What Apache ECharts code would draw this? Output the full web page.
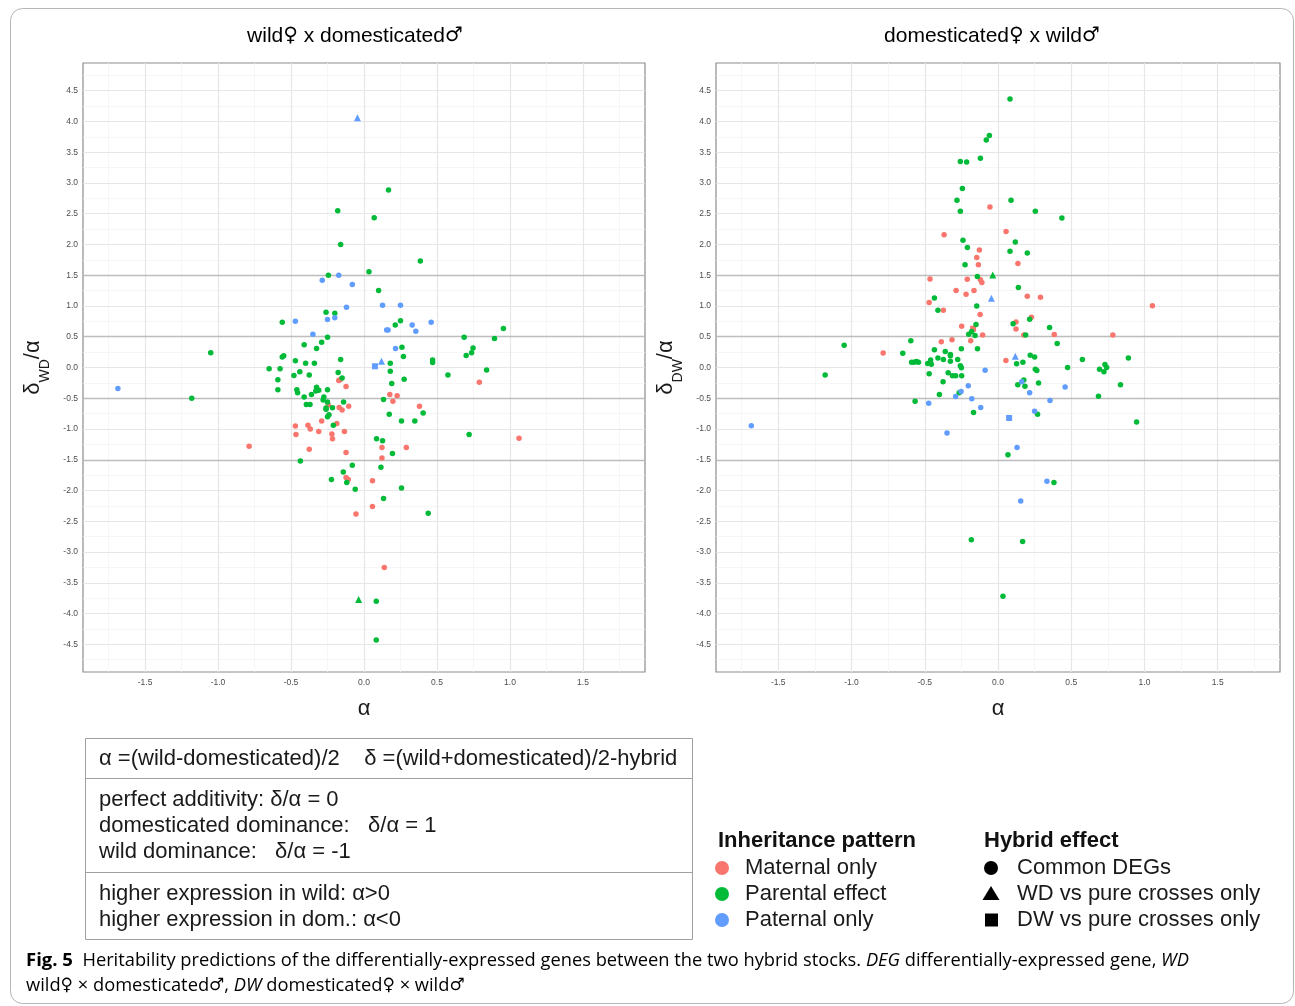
<!DOCTYPE html>
<html>
<head>
<meta charset="utf-8">
<script src="https://cdn.jsdelivr.net/npm/echarts@6/dist/echarts.min.js"></script>
<style>
html,body{margin:0;padding:0;background:#fff;}
#chart{width:1295px;height:1006px;}
</style>
</head>
<body>
<div id="chart"></div>
<script>
// ---------------- DATA ----------------
const PANEL_TITLES = ['wild\u2640 x domesticated\u2642', 'domesticated\u2640 x wild\u2642'];
const X_TICKS = [-1.5, -1.0, -0.5, 0.0, 0.5, 1.0, 1.5];
const Y_TICKS = [-4.5, -4.0, -3.5, -3.0, -2.5, -2.0, -1.5, -1.0, -0.5, 0.0, 0.5, 1.0, 1.5, 2.0, 2.5, 3.0, 3.5, 4.0, 4.5];
const X_MINOR = [-1.75, -1.25, -0.75, -0.25, 0.25, 0.75, 1.25, 1.75];
const Y_MINOR = [-4.75, -4.25, -3.75, -3.25, -2.75, -2.25, -1.75, -1.25, -0.75, -0.25, 0.25, 0.75, 1.25, 1.75, 2.25, 2.75, 3.25, 3.75, 4.25, 4.75];
const REF_LINES = [-1.5, -0.5, 0.5, 1.5];
const X_LIMITS = [-1.925, 1.925];
const Y_LIMITS = [-4.95, 4.95];
const GROUPS = ['Maternal only', 'Parental effect', 'Paternal only'];
const EFFECTS = ['Common DEGs', 'WD vs pure crosses only', 'DW vs pure crosses only'];

// wild female x domesticated male  (alpha, delta_WD/alpha)
const wdMaternal = [[-0.173,-0.21],[-0.163,-0.2],[-0.123,-0.31],[-0.245,-0.61],[-0.17,-0.65],[-0.15,-0.69],[-0.105,-0.63],[-0.29,-0.87],[-0.186,-0.91],[-0.47,-0.95],[-0.384,-0.94],[-0.368,-1.0],[-0.466,-1.09],[-0.31,-1.04],[-0.22,-1.08],[-0.216,-1.16],[-0.134,-1.04],[-0.375,-1.33],[-0.123,-1.38],[-0.787,-1.28],[0.177,-0.44],[0.227,-0.46],[0.198,-0.55],[0.38,-0.63],[0.123,-1.3],[0.29,-1.3],[0.123,-1.47],[0.79,-0.24],[1.062,-1.15],[-0.123,-1.79],[-0.108,-1.82],[0.058,-1.84],[0.058,-2.26],[-0.055,-2.38],[0.139,-3.25]];
const wdParental = [[0.1,1.25],[0.168,2.885],[-0.18,2.55],[0.07,2.435],[-0.16,2.0],[0.386,1.73],[0.034,1.556],[-0.244,1.5],[-0.26,0.9],[-0.2,0.88],[-0.56,0.735],[0.214,0.69],[0.25,0.76],[-0.25,0.49],[-0.29,0.41],[-0.41,0.37],[-0.325,0.31],[-0.56,0.17],[-0.55,0.19],[-0.47,0.11],[-0.4,0.07],[-0.34,0.07],[-0.16,0.13],[-0.65,-0.02],[-0.575,-0.02],[-0.48,-0.13],[-0.44,-0.07],[-0.375,-0.12],[-0.177,-0.08],[-0.15,-0.17],[0.26,0.33],[0.27,0.18],[0.18,0.07],[0.18,-0.06],[0.275,-0.19],[0.19,-0.26],[0.47,0.12],[0.47,0.08],[0.575,-0.12],[0.686,0.49],[0.7,0.195],[0.737,0.24],[0.747,0.315],[0.894,0.47],[0.955,0.635],[0.84,-0.04],[-1.05,0.24],[-1.18,-0.5],[-0.59,-0.2],[-0.59,-0.36],[-0.46,-0.36],[-0.455,-0.41],[-0.325,-0.32],[-0.31,-0.37],[-0.33,-0.38],[-0.36,-0.44],[-0.41,-0.48],[-0.25,-0.36],[-0.275,-0.48],[-0.28,-0.53],[-0.395,-0.6],[-0.37,-0.6],[-0.25,-0.56],[-0.26,-0.66],[-0.26,-0.68],[-0.216,-0.655],[-0.24,-0.77],[-0.25,-0.8],[-0.14,-0.56],[-0.21,-0.94],[0.134,-0.52],[0.173,-0.76],[0.257,-0.87],[0.348,-0.87],[0.405,-0.74],[0.086,-1.16],[0.127,-1.19],[0.195,-1.4],[-0.436,-1.52],[-0.08,-1.59],[0.116,-1.62],[0.72,-1.09],[-0.142,-1.7],[-0.118,-1.87],[-0.223,-1.82],[-0.06,-1.98],[0.257,-1.96],[0.134,-2.13],[0.44,-2.37],[0.084,-3.8],[0.084,-4.43]];
const wdParentalWDonly = [[-0.037,-3.77]];
const wdPaternal = [[-0.286,1.42],[-0.173,1.5],[-0.08,1.35],[-0.12,0.98],[0.127,1.01],[0.25,1.01],[-0.47,0.75],[-0.25,0.78],[-0.2,0.81],[-0.35,0.54],[0.155,0.61],[0.165,0.61],[0.33,0.69],[0.355,0.59],[0.46,0.735],[0.216,0.31],[-1.686,-0.34]];
const wdPaternalWDonly = [[-0.045,4.06],[0.12,0.1]];
const wdPaternalDWonly = [[0.075,0.02]];

// domesticated female x wild male  (alpha, delta_DW/alpha)
const dwMaternal = [[-0.055,2.61],[-0.368,2.16],[0.055,2.21],[-0.127,1.91],[-0.145,1.79],[-0.134,1.67],[0.136,1.69],[-0.464,1.44],[-0.21,1.435],[-0.12,1.425],[-0.11,1.38],[-0.286,1.25],[-0.218,1.19],[-0.164,1.25],[-0.47,1.055],[0.2,1.16],[0.29,1.14],[-0.373,0.93],[-0.122,0.86],[0.123,0.74],[0.123,0.625],[0.228,0.817],[-0.248,0.672],[-0.105,0.527],[0.384,0.535],[0.176,0.527],[-0.784,0.235],[-0.387,0.42],[-0.314,0.45],[-0.186,0.435],[0.054,0.113],[1.054,1.005],[0.784,0.527]];
const dwMaternalDWonly = [[-0.17,0.63]];
const dwParental = [[0.082,4.365],[-0.059,3.77],[-0.08,3.7],[-0.12,3.4],[-0.257,3.35],[-0.214,3.34],[-0.243,2.91],[-0.28,2.72],[0.089,2.72],[-0.257,2.54],[0.255,2.54],[0.436,2.43],[-0.239,2.07],[0.118,2.04],[-0.209,1.95],[0.082,1.89],[0.2,1.86],[-0.225,1.67],[-0.141,1.48],[0.139,1.3],[-0.434,1.13],[-0.145,1.0],[-0.41,0.93],[-0.15,0.7],[0.103,0.71],[0.216,0.785],[-0.18,0.586],[-0.2,0.54],[-0.157,0.52],[0.352,0.65],[0.189,0.527],[-0.595,0.434],[0.404,0.39],[-0.65,0.23],[-0.434,0.29],[-0.36,0.26],[-0.25,0.305],[-0.14,0.305],[-0.325,0.21],[-0.325,0.19],[-0.41,0.155],[-0.373,0.13],[-0.46,0.12],[-0.275,0.13],[-0.325,0.1],[-0.59,0.086],[-0.573,0.086],[-0.557,0.096],[-0.543,0.086],[-0.48,0.064],[-0.455,0.054],[-0.257,0.027],[-0.25,-0.005],[0.127,0.06],[0.17,0.086],[0.22,0.2],[0.25,0.17],[0.255,-0.03],[0.265,-0.05],[0.475,0.0],[0.576,0.13],[0.693,-0.027],[0.723,-0.07],[0.73,0.05],[0.742,0.0],[0.89,0.156],[0.836,-0.28],[0.946,-0.887],[0.686,-0.468],[-0.47,-0.1],[-0.34,-0.086],[-0.311,-0.134],[-0.289,-0.134],[-0.248,-0.134],[-0.375,-0.23],[-0.265,-0.41],[-0.4,-0.44],[-0.566,-0.55],[-0.167,-0.73],[0.176,-0.204],[0.135,-0.28],[0.184,-0.306],[0.277,-0.25],[0.27,-0.758],[0.068,-1.42],[0.382,-1.87],[-0.182,-2.8],[0.168,-2.83],[0.034,-3.72],[-1.05,0.36],[-1.18,-0.12]];
const dwParentalWDonly = [[-0.036,1.505]];
const dwPaternal = [[-0.088,-0.043],[-0.203,-0.296],[-0.252,-0.39],[-0.289,-0.473],[-0.179,-0.51],[-0.473,-0.58],[-0.118,-0.65],[0.162,-0.23],[0.216,-0.41],[0.458,-0.317],[0.355,-0.537],[0.25,-0.71],[-0.348,-1.064],[0.13,-1.3],[0.334,-1.85],[0.155,-2.17],[-1.684,-0.946]];
const dwPaternalWDonly = [[-0.045,1.125],[0.118,0.183]];
const dwPaternalDWonly = [[0.076,-0.82]];

const BOX_ROWS = [
  ['\u03b1 =(wild-domesticated)/2    \u03b4 =(wild+domesticated)/2-hybrid'],
  ['perfect additivity: \u03b4/\u03b1 = 0', 'domesticated dominance:   \u03b4/\u03b1 = 1', 'wild dominance:   \u03b4/\u03b1 = -1'],
  ['higher expression in wild: \u03b1>0', 'higher expression in dom.: \u03b1<0']
];
const LEGEND_TITLES = ['Inheritance pattern', 'Hybrid effect'];
// caption pieces: [text, style] with style b = bold, n = normal, i = italic
const CAPTION_LINE1 = [['Fig. 5', 'b'], ['  Heritability predictions of the differentially-expressed genes between the two hybrid stocks. ', 'n'], ['DEG', 'i'], [' differentially-expressed gene, ', 'n'], ['WD', 'i']];
const CAPTION_LINE2 = [['wild\u2640 \u00d7 domesticated\u2642, ', 'n'], ['DW', 'i'], [' domesticated\u2640 \u00d7 wild\u2642', 'n']];

// ---------------- STYLE ----------------
const COLORS = ['#F8766D', '#00BA38', '#619CFF'];
const SYMBOLS = ['circle', 'triangle', 'rect'];
const SYMBOL_SIZES = [5.5, 7, 6];
const SANS = '"Liberation Sans", Arial, sans-serif';
const SYMFONT = '"DejaVu Sans", sans-serif';
const CAP_FONT = '"Open Sans", sans-serif';

// wrap text so that gender symbols use a font that has them
function richify(str, base, sym) {
  return str.split(/([\u2640\u2642])/).filter(s => s.length).map(s =>
    /[\u2640\u2642]/.test(s) ? '{' + sym + '|' + s + '}' : '{' + base + '|' + s + '}').join('');
}

const panels = [
  {groups: [[wdMaternal, [], []], [wdParental, wdParentalWDonly, []], [wdPaternal, wdPaternalWDonly, wdPaternalDWonly]], yName: 'WD'},
  {groups: [[dwMaternal, [], dwMaternalDWonly], [dwParental, dwParentalWDonly, []], [dwPaternal, dwPaternalWDonly, dwPaternalDWonly]], yName: 'DW'}
];

const gridPos = [
  {left: 83, top: 63, width: 562, height: 609},
  {left: 716, top: 63, width: 564, height: 609}
];

const chart = echarts.init(document.getElementById('chart'), null, {renderer: 'canvas'});

const grids = [], xAxes = [], yAxes = [], series = [];
panels.forEach((p, i) => {
  grids.push(Object.assign({show: true, borderColor: '#8c8c8c', borderWidth: 1.2, backgroundColor: '#fff'}, gridPos[i]));
  xAxes.push({
    type: 'value', gridIndex: i, min: X_LIMITS[0], max: X_LIMITS[1],
    name: '\u03b1', nameLocation: 'middle', nameGap: 26,
    nameTextStyle: {fontSize: 22, color: '#1a1a1a', fontFamily: SANS},
    axisLine: {show: false},
    axisTick: {show: true, length: 3, lineStyle: {color: '#333'}, customValues: X_TICKS},
    axisLabel: {show: true, fontSize: 8.5, color: '#4d4d4d', margin: 6, fontFamily: SANS, customValues: X_TICKS, formatter: v => v.toFixed(1)},
    splitLine: {show: false}
  });
  yAxes.push({
    type: 'value', gridIndex: i, min: Y_LIMITS[0], max: Y_LIMITS[1],
    name: '{a|\u03b4}{s|' + p.yName + '}{a|/\u03b1}', nameLocation: 'middle', nameGap: 36,
    nameTextStyle: {
      color: '#1a1a1a', fontFamily: SANS,
      rich: {
        a: {fontSize: 22, lineHeight: 28, color: '#1a1a1a', fontFamily: SANS},
        s: {fontSize: 14, lineHeight: 28, verticalAlign: 'bottom', color: '#1a1a1a', fontFamily: SANS, padding: [0, 0, -5, 0]}
      }
    },
    axisLine: {show: false},
    axisTick: {show: true, length: 3, lineStyle: {color: '#333'}, customValues: Y_TICKS},
    axisLabel: {show: true, fontSize: 8.5, color: '#4d4d4d', margin: 5, fontFamily: SANS, customValues: Y_TICKS, formatter: v => v.toFixed(1)},
    splitLine: {show: false}
  });
  // background grid lines via markLine on an empty series (kept below the points)
  const ml = [];
  X_MINOR.forEach(v => ml.push({xAxis: v, lineStyle: {color: '#f4f4f4', width: 0.8, type: 'solid'}}));
  Y_MINOR.forEach(v => ml.push({yAxis: v, lineStyle: {color: '#f4f4f4', width: 0.8, type: 'solid'}}));
  X_TICKS.forEach(v => ml.push({xAxis: v, lineStyle: {color: '#e6e6e6', width: 1.2, type: 'solid'}}));
  Y_TICKS.forEach(v => ml.push({yAxis: v, lineStyle: {color: '#e6e6e6', width: 1.2, type: 'solid'}}));
  REF_LINES.forEach(v => ml.push({yAxis: v, lineStyle: {color: '#bdbdbd', width: 1.4, type: 'solid'}}));
  series.push({
    type: 'scatter', xAxisIndex: i, yAxisIndex: i, data: [], z: 1, silent: true,
    markLine: {silent: true, z: 1, symbol: ['none', 'none'], label: {show: false}, animation: false, data: ml}
  });
  p.groups.forEach((g, gi) => {
    g.forEach((arr, si) => {
      series.push({
        type: 'scatter', name: GROUPS[gi] + ' / ' + EFFECTS[si], xAxisIndex: i, yAxisIndex: i,
        data: arr, symbol: SYMBOLS[si], symbolSize: SYMBOL_SIZES[si], z: 10,
        itemStyle: {color: COLORS[gi], opacity: 1}, animation: false, silent: true
      });
    });
  });
});

// ---------------- GRAPHIC (titles, box, legend, caption) ----------------
const graphic = [];
graphic.push({type: 'rect', shape: {x: 10.5, y: 8.5, width: 1283, height: 995, r: 12}, style: {fill: 'none', stroke: '#b5b5b5', lineWidth: 1}, z: -10, silent: true});
const titleRich = {
  t: {fontFamily: SANS, fontSize: 21, color: '#1a1a1a'},
  g: {fontFamily: SYMFONT, fontSize: 20, color: '#1a1a1a'}
};
[355, 992].forEach((cx, i) => graphic.push({type: 'text', style: {x: cx, y: 36, text: richify(PANEL_TITLES[i], 't', 'g'), rich: titleRich, textAlign: 'center', textVerticalAlign: 'middle'}}));
// explanation box
graphic.push({type: 'rect', shape: {x: 85.5, y: 738.5, width: 607, height: 201}, style: {fill: 'none', stroke: '#a0a0a0', lineWidth: 1}});
graphic.push({type: 'line', shape: {x1: 85.5, y1: 778.5, x2: 692.5, y2: 778.5}, style: {stroke: '#a0a0a0', lineWidth: 1}});
graphic.push({type: 'line', shape: {x1: 85.5, y1: 872.5, x2: 692.5, y2: 872.5}, style: {stroke: '#a0a0a0', lineWidth: 1}});
const rowY = [[759], [800, 826, 852], [894, 920]];
BOX_ROWS.forEach((row, ri) => row.forEach((t, li) => graphic.push({type: 'text', style: {x: 99, y: rowY[ri][li], text: t, font: '22px ' + SANS, fill: '#1a1a1a', textAlign: 'left', textVerticalAlign: 'middle'}})));
// legends
graphic.push({type: 'text', style: {x: 718, y: 841, text: LEGEND_TITLES[0], font: 'bold 22px ' + SANS, fill: '#111', textAlign: 'left', textVerticalAlign: 'middle'}});
graphic.push({type: 'text', style: {x: 984, y: 841, text: LEGEND_TITLES[1], font: 'bold 22px ' + SANS, fill: '#111', textAlign: 'left', textVerticalAlign: 'middle'}});
const legY = [868, 894, 920];
GROUPS.forEach((g, i) => {
  graphic.push({type: 'circle', shape: {cx: 722, cy: legY[i], r: 7}, style: {fill: COLORS[i]}});
  graphic.push({type: 'text', style: {x: 745, y: legY[i], text: g, font: '22px ' + SANS, fill: '#1a1a1a', textAlign: 'left', textVerticalAlign: 'middle'}});
});
graphic.push({type: 'circle', shape: {cx: 991, cy: legY[0], r: 7}, style: {fill: '#000'}});
graphic.push({type: 'polygon', shape: {points: [[991, legY[1] - 8], [999.5, legY[1] + 6], [982.5, legY[1] + 6]]}, style: {fill: '#000'}});
graphic.push({type: 'rect', shape: {x: 985, y: legY[2] - 6.5, width: 13, height: 13}, style: {fill: '#000'}});
EFFECTS.forEach((e, i) => graphic.push({type: 'text', style: {x: 1017, y: legY[i], text: e, font: '22px ' + SANS, fill: '#1a1a1a', textAlign: 'left', textVerticalAlign: 'middle'}}));
// caption
const capRich = {
  b: {fontFamily: CAP_FONT, fontSize: 18.5, fontWeight: 'bold', color: '#222'},
  n: {fontFamily: CAP_FONT, fontSize: 18.3, color: '#444'},
  i: {fontFamily: CAP_FONT, fontSize: 18.3, fontStyle: 'italic', color: '#444'},
  g: {fontFamily: SYMFONT, fontSize: 17, color: '#444'}
};
function capText(parts) {
  return parts.map(p => richify(p[0], p[1], 'g')).join('');
}
graphic.push({type: 'text', style: {x: 26, y: 961, textVerticalAlign: 'middle', textAlign: 'left', text: capText(CAPTION_LINE1), rich: capRich}});
graphic.push({type: 'text', style: {x: 26, y: 986, textVerticalAlign: 'middle', textAlign: 'left', text: capText(CAPTION_LINE2), rich: capRich}});

chart.setOption({
  animation: false,
  backgroundColor: '#fff',
  grid: grids, xAxis: xAxes, yAxis: yAxes, series: series,
  graphic: graphic
});
</script>
</body>
</html>
